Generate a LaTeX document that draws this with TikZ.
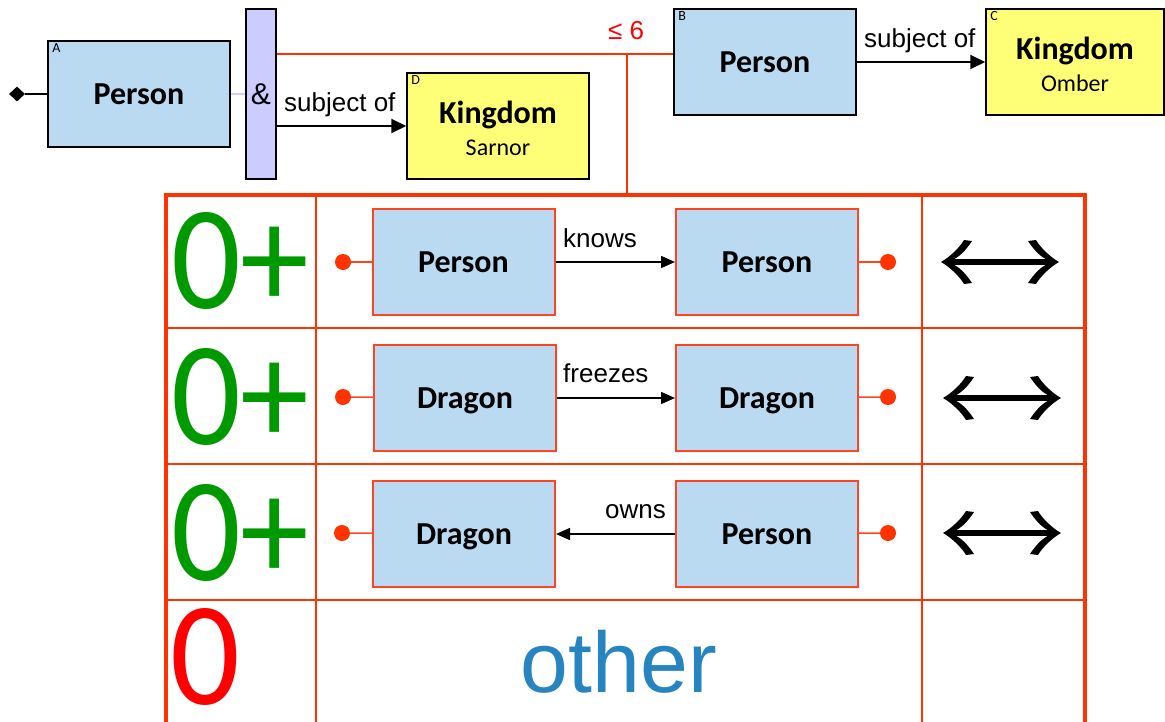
\documentclass[tikz,border=0pt]{standalone}
\usepackage{graphicx}
\usepackage{fontspec}
\setmainfont{Liberation Sans}
\newfontfamily\cali{Carlito}
\usetikzlibrary{arrows.meta,shapes.geometric}
\definecolor{boxblue}{HTML}{B9DAF0}
\definecolor{kyellow}{HTML}{FFFF77}
\definecolor{lav}{HTML}{CCCCFF}
\definecolor{tred}{HTML}{FF3300}
\definecolor{bred}{HTML}{FF4422}
\definecolor{zgreen}{HTML}{009900}
\definecolor{oblue}{HTML}{2684C0}
\tikzset{
  topbox/.style={draw=black, line width=1.5pt, fill=boxblue, minimum width=182pt, minimum height=106pt, inner sep=0pt, align=center, text depth=0pt, font=\cali\bfseries\fontsize{32}{32}\selectfont},
  kbox/.style={topbox, fill=kyellow, text height=59pt, text depth=0pt},
  tbox/.style={topbox, draw=bred, line width=2pt},
  corner/.style={inner sep=0pt, anchor=north west, font=\cali\fontsize{14}{14}\selectfont},
  lab/.style={inner sep=0pt, anchor=base west, font=\fontsize{26}{26}\selectfont},
  conn/.style={draw=black, line width=2pt, -{Triangle[length=15pt,width=14pt]}},
  tdot/.style={circle, fill=tred, inner sep=0pt, minimum size=16pt},
  dotline/.style={draw=bred, line width=1.5pt},
  redline/.style={draw=tred, line width=1.5pt},
  big/.style={inner sep=0pt, anchor=base west, text depth=0pt, font=\cali\fontsize{148}{148}\selectfont},
  dblarr/.pic={
    \fill (-47,-2.75) rectangle (47,2.75);
    \fill (59,0) .. controls (50,-5) and (40,-15) .. (36,-22) -- (28,-21) .. controls (32,-15) and (38,-7) .. (46,-2.75) -- (46,2.75) .. controls (38,7) and (32,15) .. (28,21) -- (36,22) .. controls (40,15) and (50,5) .. (59,0) -- cycle;
    \fill (-59,0) .. controls (-50,-5) and (-40,-15) .. (-36,-22) -- (-28,-21) .. controls (-32,-15) and (-38,-7) .. (-46,-2.75) -- (-46,2.75) .. controls (-38,7) and (-32,15) .. (-28,21) -- (-36,22) .. controls (-40,15) and (-50,5) .. (-59,0) -- cycle;
  }
}
\begin{document}
\begin{tikzpicture}[x=1pt,y=-1pt]
\useasboundingbox (0,0) rectangle (1165,721);
\clip (0,0) rectangle (1165,721);
\fill[white] (0,0) rectangle (1165,721);

% ---------- top part ----------
\node[topbox] (A) at (139,94) {Person};
\node[corner] at ([xshift=5pt,yshift=-3pt]A.north west) {A};
\node[diamond, fill=black, inner sep=0pt, minimum width=16pt, minimum height=15pt] (dia) at (17,94) {};
\draw[line width=1.5pt] (dia) -- (A);

\node[draw=black, line width=1.5pt, fill=lav, minimum width=30pt, minimum height=170pt, inner sep=0pt, font=\fontsize{30}{30}\selectfont] (amp) at (261,94) {\&};
\draw[lav, line width=1.5pt] (A.east) -- (amp.west |- A.east);

\node[kbox] (D) at (498,126) {Kingdom\\{\mdseries\fontsize{24}{24}\selectfont Sarnor}};
\node[corner] at ([xshift=5pt,yshift=-3pt]D.north west) {D};
\draw[conn] (amp.east |- D.west) -- (D.west);
\node[lab] (l1) at (284,111) {subject of};

\node[topbox] (B) at (765,62) {Person};
\node[corner] at ([xshift=5pt,yshift=-3pt]B.north west) {B};
\node[kbox, minimum width=178pt] (C) at (1075,62) {Kingdom\\{\mdseries\fontsize{24}{24}\selectfont Omber}};
\node[corner] at ([xshift=5pt,yshift=-3pt]C.north west) {C};
\draw[conn] (B.east) -- (C.west);
\node[lab] (l2) at (864,47) {subject of};

\coordinate (j) at (627,54);
\coordinate (tt) at (627,195);
\draw[redline] (amp.east |- j) -- (B.west |- j);
\draw[redline] (j) -- (tt);
\node[lab, text=red] (le6) at (608,39) {≤ 6};

% ---------- table ----------
\draw[redline] (316,195) -- (316,740) (922,195) -- (922,740)
  (166,328) -- (1085,328) (166,464) -- (1085,464) (166,600) -- (1085,600);
\draw[tred, line width=4pt] (166,195) rectangle (1085,740);

\node[big, text=zgreen] (c1) at (171,308) {\scalebox{0.93}[1]{0+}};
\node[big, text=zgreen] (c2) at (171,444) {\scalebox{0.93}[1]{0+}};
\node[big, text=zgreen] (c3) at (171,580) {\scalebox{0.93}[1]{0+}};
\node[big, text=red] (c4) at (170,704) {\scalebox{0.93}[1]{0}};

% row 1
\node[tbox] (p1a) at (463.5,262) {Person};
\node[tbox] (p1b) at (767,262) {Person};
\node[tdot] (dl1) at (343,262) {};
\node[tdot] (dr1) at (888,262) {};
\draw[dotline] (dl1) -- (p1a);
\draw[dotline] (p1b) -- (dr1);
\draw[conn, line width=1.5pt, -{Triangle[length=14pt,width=12pt]}] (p1a) -- (p1b);
\node[lab] (k1) at (563,247) {knows};

% row 2
\node[tbox] (d2a) at (465,398) {Dragon};
\node[tbox] (d2b) at (767,398) {Dragon};
\node[tdot] (dl2) at (343,397) {};
\node[tdot] (dr2) at (888,397) {};
\draw[dotline] (dl2) -- (d2a);
\draw[dotline] (d2b) -- (dr2);
\draw[conn, line width=1.5pt, -{Triangle[length=14pt,width=12pt]}] (d2a) -- (d2b);
\node[lab] (k2) at (563,382) {freezes};

% row 3
\node[tbox] (d3a) at (464,534) {Dragon};
\node[tbox] (p3b) at (767,534) {Person};
\node[tdot] (dl3) at (342,533) {};
\node[tdot] (dr3) at (888,533) {};
\draw[dotline] (dl3) -- (d3a);
\draw[dotline] (p3b) -- (dr3);
\draw[conn, line width=1.5pt, -{Triangle[length=14pt,width=12pt]}] (p3b) -- (d3a);
\node[lab, anchor=base east] (k3) at (666,518) {owns};

% row 4
\node[inner sep=0pt, anchor=base, text=oblue, font=\fontsize{86}{86}\selectfont] (oth) at (619,692) {other};

% double arrows
\pic at (1000,262) {dblarr};
\pic at (1002,398) {dblarr};
\pic at (1002,533) {dblarr};
\end{tikzpicture}
\end{document}
